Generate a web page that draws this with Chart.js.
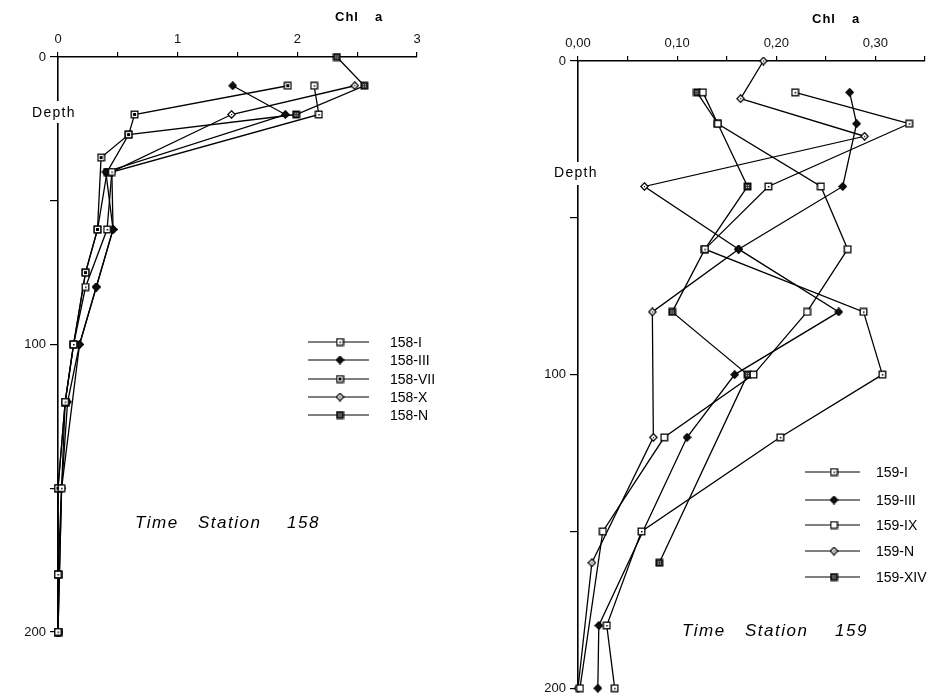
<!DOCTYPE html>
<html>
<head>
<meta charset="utf-8">
<script src="https://cdn.jsdelivr.net/npm/chart.js@4"></script>
<style>
body { margin: 0; background: #fff; width: 932px; height: 700px; overflow: hidden; position: relative; }
canvas { position: absolute; top: 0; }
#c158 { left: 0; }
#c159 { left: 466px; }
</style>
</head>
<body>
<canvas id="c158" width="466" height="700"></canvas>
<canvas id="c159" width="466" height="700"></canvas>
<script>
// Time Station 158 - Chl a against depth
var depth158I   = [10, 20, 40, 60, 80, 100, 120, 150, 180, 200];
var chl158I     = [2.14, 2.18, 0.45, 0.41, 0.23, 0.13, 0.06, 0.03, 0.0, 0.0];
var depth158III = [10, 20, 40, 60, 80, 100, 120, 150, 200];
var chl158III   = [1.46, 1.90, 0.40, 0.46, 0.32, 0.18, 0.08, 0.03, 0.0];
var depth158VII = [10, 20, 27, 35, 60, 75, 100, 120, 150, 180, 200];
var chl158VII   = [1.92, 0.64, 0.59, 0.36, 0.33, 0.23, 0.13, 0.06, 0.0, 0.0, 0.0];
var depth158X   = [10, 20, 40, 60, 80, 100, 150, 200];
var chl158X     = [2.48, 1.45, 0.45, 0.46, 0.32, 0.18, 0.03, 0.0];
var depth158N   = [0, 10, 20, 27, 40, 60, 75, 100, 120, 150, 180, 200];
var chl158N     = [2.33, 2.56, 1.99, 0.59, 0.41, 0.33, 0.23, 0.13, 0.06, 0.0, 0.0, 0.0];

// Time Station 159
var depth159I   = [10, 20, 40, 60, 80, 100, 120, 150, 180, 200];
var chl159I     = [0.219, 0.334, 0.192, 0.128, 0.288, 0.307, 0.204, 0.064, 0.029, 0.037];
var depth159III = [10, 20, 40, 60, 80, 100, 120, 180, 200];
var chl159III   = [0.274, 0.281, 0.267, 0.162, 0.263, 0.158, 0.110, 0.021, 0.020];
var depth159IX  = [10, 20, 40, 60, 80, 100, 120, 150, 200];
var chl159IX    = [0.126, 0.141, 0.245, 0.272, 0.231, 0.177, 0.087, 0.025, 0.002];
var depth159N   = [0, 12, 24, 40, 60, 80, 120, 160, 200];
var chl159N     = [0.187, 0.164, 0.289, 0.067, 0.162, 0.075, 0.076, 0.014, 0.0];
var depth159XIV = [10, 20, 40, 60, 80, 100, 160];
var chl159XIV   = [0.120, 0.141, 0.171, 0.128, 0.095, 0.171, 0.082];

var ticks158 = ['0', '1', '2', '3'];
var depthTicks = ['0', '100', '200'];

// little marker images, drawn once
function marker(kind) {
  var s = 9;
  var c = document.createElement('canvas');
  c.width = s; c.height = s;
  var g = c.getContext('2d');
  g.strokeStyle = '#000';
  g.lineWidth = 1.3;
  if (kind.indexOf('dia') === 0) {
    g.beginPath();
    g.moveTo(4.5, 0.8); g.lineTo(8.2, 4.5); g.lineTo(4.5, 8.2); g.lineTo(0.8, 4.5); g.closePath();
    g.fillStyle = kind === 'diaFill' ? '#111' : '#fff';
    g.fill(); g.stroke();
    if (kind === 'diaOpen') { g.fillStyle = '#000'; g.fillRect(4, 4, 1.2, 1.2); }
  } else {
    g.fillStyle = kind === 'sqHatch' ? '#333' : '#fff';
    g.fillRect(1, 1, 7, 7);
    if (kind === 'sqHatch') {
      g.fillStyle = '#bbb';
      g.fillRect(3, 3, 1, 1); g.fillRect(5, 5, 1, 1); g.fillRect(5, 3, 1, 1); g.fillRect(3, 5, 1, 1);
    }
    g.strokeRect(1.2, 1.2, 6.6, 6.6);
    if (kind === 'sqDot') { g.fillStyle = '#000'; g.fillRect(4, 4, 1.5, 1.5); }
    if (kind === 'sqHeavy') { g.fillStyle = '#000'; g.fillRect(3, 3, 3, 3); }
  }
  return c;
}

function series(label, depths, values, kind) {
  return {
    label: label,
    data: depths.map(function (d, i) { return { x: values[i], y: d }; }),
    showLine: true,
    borderColor: '#000',
    borderWidth: 1.3,
    pointStyle: marker(kind),
    pointRadius: 4,
    clip: 8
  };
}

var deco = {
  id: 'deco',
  afterDraw: function (chart, args, o) {
    var ctx = chart.ctx;
    ctx.save();
    ctx.fillStyle = '#000';
    ctx.textBaseline = 'middle';
    if (o.gap) {
      ctx.fillStyle = '#fff';
      ctx.fillRect(o.gap.x, o.gap.y, o.gap.w, o.gap.h);
      ctx.fillStyle = '#000';
    }
    o.texts.forEach(function (t) {
      ctx.font = t.font;
      ctx.letterSpacing = (t.sp || 0) + 'px';
      ctx.textAlign = 'left';
      ctx.fillText(t.s, t.x, t.y);
    });
    ctx.letterSpacing = '0px';
    var L = o.legend;
    chart.data.datasets.forEach(function (ds, i) {
      var y = L.ys[i];
      ctx.strokeStyle = '#000';
      ctx.lineWidth = 1;
      ctx.beginPath();
      ctx.moveTo(L.x1, y); ctx.lineTo(L.x2, y);
      ctx.stroke();
      var m = ds.pointStyle;
      ctx.drawImage(m, L.xm - m.width / 2, y - m.height / 2);
      ctx.font = '14px "Liberation Sans", Arial, sans-serif';
      ctx.fillText(ds.label, L.xt, y + 1);
    });
    ctx.restore();
  }
};

var tickFont = { family: '"Liberation Sans", Arial, sans-serif', size: 13 };

function depthAxis(width) {
  return {
    type: 'linear',
    min: 0, max: 200, reverse: true,
    afterFit: function (s) { s.width = width; },
    ticks: {
      stepSize: 50, color: '#111', font: tickFont, padding: 4,
      callback: function (v) { return v % 100 === 0 ? depthTicks[v / 100] : ''; }
    },
    grid: { drawOnChartArea: false, tickLength: 8, color: '#000', lineWidth: 1.2 },
    border: { color: '#000', width: 1.6 }
  };
}

new Chart(document.getElementById('c158'), {
  type: 'scatter',
  data: {
    datasets: [
      series('158-I', depth158I, chl158I, 'sqDot'),
      series('158-III', depth158III, chl158III, 'diaFill'),
      series('158-VII', depth158VII, chl158VII, 'sqHeavy'),
      series('158-X', depth158X, chl158X, 'diaOpen'),
      series('158-N', depth158N, chl158N, 'sqHatch')
    ]
  },
  options: {
    responsive: false,
    animation: false,
    layout: { padding: { left: 0, top: 0, right: 49, bottom: 68 } },
    scales: {
      x: {
        type: 'linear', position: 'top', min: 0, max: 3,
        afterFit: function (s) { s.height = 57; },
        ticks: {
          stepSize: 0.5, color: '#111', font: tickFont, padding: 5, maxRotation: 0,
          callback: function (v) { return v % 1 === 0 ? ticks158[v] : ''; }
        },
        grid: { drawOnChartArea: false, tickLength: 5, color: '#000', lineWidth: 1.2 },
        border: { color: '#000', width: 1.6 }
      },
      y: depthAxis(58)
    },
    plugins: {
      legend: { display: false },
      tooltip: { enabled: false },
      deco: {
        gap: { x: 30, y: 101, w: 48, h: 22 },
        texts: [
          { s: 'Chl', x: 335, y: 17, font: 'bold 13px "Liberation Sans", Arial, sans-serif', sp: 1 },
          { s: 'a', x: 375, y: 17, font: 'bold 13px "Liberation Sans", Arial, sans-serif' },
          { s: 'Depth', x: 32, y: 113, font: '14px "Liberation Sans", Arial, sans-serif', sp: 1.3 },
          { s: 'Time', x: 135, y: 523, font: 'italic 17px "Liberation Sans", Arial, sans-serif', sp: 1.5 },
          { s: 'Station', x: 198, y: 523, font: 'italic 17px "Liberation Sans", Arial, sans-serif', sp: 1.5 },
          { s: '158', x: 287, y: 523, font: 'italic 17px "Liberation Sans", Arial, sans-serif', sp: 1.5 }
        ],
        legend: { ys: [342, 360, 379, 397, 415], x1: 308, x2: 369, xm: 340, xt: 390 }
      }
    }
  },
  plugins: [deco]
});

new Chart(document.getElementById('c159'), {
  type: 'scatter',
  data: {
    datasets: [
      series('159-I', depth159I, chl159I, 'sqDot'),
      series('159-III', depth159III, chl159III, 'diaFill'),
      series('159-IX', depth159IX, chl159IX, 'sqOpen'),
      series('159-N', depth159N, chl159N, 'diaOpen'),
      series('159-XIV', depth159XIV, chl159XIV, 'sqHatch')
    ]
  },
  options: {
    responsive: false,
    animation: false,
    layout: { padding: { left: 0, top: 0, right: 7, bottom: 9 } },
    scales: {
      x: {
        type: 'linear', position: 'top', min: 0, max: 0.35,
        afterFit: function (s) { s.height = 61; },
        ticks: {
          stepSize: 0.05, color: '#111', font: tickFont, padding: 5, maxRotation: 0,
          callback: function (v) {
            var t = v * 10;
            return Math.abs(t - Math.round(t)) < 1e-6 ? v.toFixed(2).replace('.', ',') : '';
          }
        },
        grid: { drawOnChartArea: false, tickLength: 5, color: '#000', lineWidth: 1.2 },
        border: { color: '#000', width: 1.6 }
      },
      y: depthAxis(112)
    },
    plugins: {
      legend: { display: false },
      tooltip: { enabled: false },
      deco: {
        gap: { x: 86, y: 162, w: 50, h: 23 },
        texts: [
          { s: 'Chl', x: 346, y: 19, font: 'bold 13px "Liberation Sans", Arial, sans-serif', sp: 1 },
          { s: 'a', x: 386, y: 19, font: 'bold 13px "Liberation Sans", Arial, sans-serif' },
          { s: 'Depth', x: 88, y: 173, font: '14px "Liberation Sans", Arial, sans-serif', sp: 1.3 },
          { s: 'Time', x: 216, y: 631, font: 'italic 17px "Liberation Sans", Arial, sans-serif', sp: 1.5 },
          { s: 'Station', x: 279, y: 631, font: 'italic 17px "Liberation Sans", Arial, sans-serif', sp: 1.5 },
          { s: '159', x: 369, y: 631, font: 'italic 17px "Liberation Sans", Arial, sans-serif', sp: 1.5 }
        ],
        legend: { ys: [472, 500, 525, 551, 577], x1: 339, x2: 394, xm: 368, xt: 410 }
      }
    }
  },
  plugins: [deco]
});
</script>
</body>
</html>
